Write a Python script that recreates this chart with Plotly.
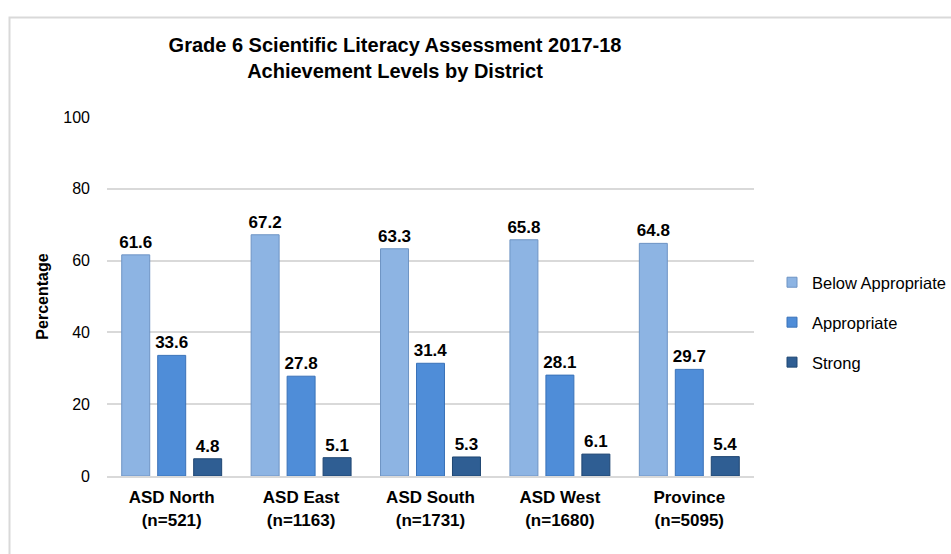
import plotly.graph_objects as go

categories = ["ASD North<br>(n=521)", "ASD East<br>(n=1163)", "ASD South<br>(n=1731)",
              "ASD West<br>(n=1680)", "Province<br>(n=5095)"]
below_appropriate = [61.6, 67.2, 63.3, 65.8, 64.8]
appropriate = [33.6, 27.8, 31.4, 28.1, 29.7]
strong = [4.8, 5.1, 5.3, 6.1, 5.4]
series_names = ["Below Appropriate", "Appropriate", "Strong"]
y_ticks = [0, 20, 40, 60, 80, 100]

FONT = "Arial, 'Liberation Sans', sans-serif"
colors = ["#8DB4E3", "#4F8DD8", "#2F5E93"]
lines = ["#6E94C4", "#3A72B8", "#1F4672"]

fig = go.Figure()
for i, (name, vals) in enumerate(zip(series_names, [below_appropriate, appropriate, strong])):
    fig.add_trace(go.Bar(
        x=categories, y=vals, name=name, legendgroup=name, showlegend=False,
        marker=dict(color=colors[i], line=dict(color=lines[i], width=1)),
        text=[f"{v:.1f}" for v in vals], textposition="outside", constraintext="none",
        textfont=dict(family=FONT, size=17, color="#000000", weight="bold"),
        cliponaxis=False,
    ))
# legend entries with small square keys
for i, name in enumerate(series_names):
    fig.add_trace(go.Scatter(
        x=[None], y=[None], mode="markers", name=name, legendgroup=name,
        marker=dict(symbol="square", size=10, color=colors[i], line=dict(color=lines[i], width=1)),
    ))

L, R, T, B = 107, 197, 117, 78
pw = 951 - L - R
ph = 554 - T - B

fig.update_layout(
    width=951, height=554,
    margin=dict(l=L, r=R, t=T, b=B, autoexpand=False),
    paper_bgcolor="white", plot_bgcolor="white",
    barmode="group", bargap=0.166, bargroupgap=0.222,
    font=dict(family=FONT, color="#000000"),
    title=dict(text="Grade 6 Scientific Literacy Assessment 2017-18<br>Achievement Levels by District",
               x=395 / 951, xanchor="center", y=1 - 52 / 554, yanchor="top",
               font=dict(family=FONT, size=20, color="#000000", weight="bold")),
    legend=dict(x=(772 - L) / pw, xanchor="left", y=(476 - 265) / ph, yanchor="top",
                font=dict(family=FONT, size=16.5, color="#000000"),
                tracegroupgap=15.5, itemwidth=30, bgcolor="rgba(0,0,0,0)"),
    showlegend=True,
    xaxis=dict(tickfont=dict(family=FONT, size=17, color="#000000", weight="bold"),
               showline=True, linecolor="#D9D9D9", linewidth=2, ticks="", showgrid=False,
               ticklabelstandoff=5),
    yaxis=dict(range=[0, 100], tickvals=y_ticks, tickfont=dict(family=FONT, size=16, color="#000000"),
               showgrid=True, gridcolor="#D9D9D9", gridwidth=1.5, zeroline=False,
               ticks="", ticklabelstandoff=16,
               title=dict(text="Percentage", standoff=10,
                          font=dict(family=FONT, size=16, color="#000000", weight="bold"))),
    shapes=[dict(type="rect", xref="paper", yref="paper",
                 x0=(9.5 - L) / pw, x1=(960 - L) / pw,
                 y0=(476 - 560) / ph, y1=(476 - 17.5) / ph,
                 line=dict(color="#D9D9D9", width=2), fillcolor="rgba(0,0,0,0)", layer="below")],
)

fig.write_html("out.html")
